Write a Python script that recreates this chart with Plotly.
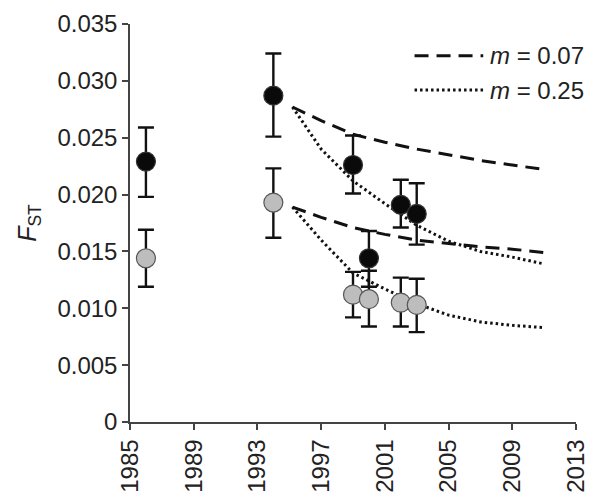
import plotly.graph_objects as go

# Observed data
black_years = [1986.0, 1994.0, 1999.0, 2000.0, 2002.0, 2003.0]
black_fst = [0.0229, 0.0287, 0.0226, 0.0144, 0.0191, 0.0183]
black_hi = [0.0259, 0.0324, 0.0252, 0.0168, 0.0213, 0.0210]
black_lo = [0.0198, 0.0251, 0.0201, 0.0119, 0.0171, 0.0156]

grey_years = [1986.0, 1994.0, 1999.0, 2000.0, 2002.0, 2003.0]
grey_fst = [0.0144, 0.0193, 0.0112, 0.0108, 0.0105, 0.0103]
grey_hi = [0.0169, 0.0223, 0.0132, 0.0133, 0.0127, 0.0126]
grey_lo = [0.0119, 0.0162, 0.0092, 0.0084, 0.0084, 0.0079]

# Model curves
model_years = [1995.2, 1997, 1999, 2001, 2003, 2005, 2007, 2009, 2011]
upper_m007 = [0.0277, 0.0265, 0.0253, 0.0246, 0.0240, 0.0235, 0.0230, 0.0226, 0.0222]
upper_m025 = [0.0277, 0.0240, 0.0212, 0.0192, 0.0173, 0.0159, 0.0150, 0.0145, 0.0139]
lower_m007 = [0.0189, 0.0180, 0.0171, 0.0165, 0.0160, 0.0157, 0.0154, 0.0152, 0.0149]
lower_m025 = [0.0189, 0.0160, 0.0131, 0.0117, 0.0104, 0.0094, 0.0088, 0.0085, 0.0083]

legend_labels = ["<i>m</i> = 0.07", "<i>m</i> = 0.25"]

x_ticks = [1985, 1989, 1993, 1997, 2001, 2005, 2009, 2013]
y_ticks = [0, 0.005, 0.010, 0.015, 0.020, 0.025, 0.030, 0.035]
y_tick_text = ["0", "0.005", "0.010", "0.015", "0.020", "0.025", "0.030", "0.035"]

FONT = "Liberation Sans, Arial, sans-serif"
INK = "#111111"
DASH = "14px,8px"
DOT = "2.5px,3px"

fig = go.Figure()

def err(vals, hi, lo):
    return dict(type="data", symmetric=False,
                array=[h - v for h, v in zip(hi, vals)],
                arrayminus=[v - l for v, l in zip(vals, lo)],
                color=INK, thickness=2.4, width=8)

for ys, dash in [(upper_m007, DASH), (upper_m025, DOT), (lower_m007, DASH), (lower_m025, DOT)]:
    fig.add_trace(go.Scatter(x=model_years, y=ys, mode="lines",
                             line=dict(color=INK, width=3, dash=dash),
                             showlegend=False))

fig.add_trace(go.Scatter(x=grey_years, y=grey_fst, mode="markers",
                         marker=dict(size=19, color="#bdbdbd", line=dict(color="#555555", width=1.2)),
                         error_y=err(grey_fst, grey_hi, grey_lo), showlegend=False))
fig.add_trace(go.Scatter(x=black_years, y=black_fst, mode="markers",
                         marker=dict(size=19, color="#0a0a0a", line=dict(color="#333333", width=1.2)),
                         error_y=err(black_fst, black_hi, black_lo), showlegend=False))

# Legend drawn as key lines + labels (paper coordinates)
legend_rows = [(0.92, DASH), (0.834, DOT)]
for (ypos, dash), label in zip(legend_rows, legend_labels):
    fig.add_shape(type="line", xref="paper", yref="paper",
                  x0=0.638, x1=0.792, y0=ypos, y1=ypos,
                  line=dict(color=INK, width=3, dash=dash))
    fig.add_annotation(xref="paper", yref="paper", x=0.803, y=ypos,
                       xanchor="left", yanchor="middle", showarrow=False,
                       text=label, font=dict(size=24, color="#222222"))

# page body has an 8px margin, so the figure is sized/offset to compensate
fig.update_layout(
    width=594, height=485,
    margin=dict(l=122, r=26, t=16, b=71),
    paper_bgcolor="white", plot_bgcolor="white",
    font=dict(family=FONT, size=24, color="#222222"),
    showlegend=False,
    xaxis=dict(range=[1985, 2013], tickvals=x_ticks, tickangle=-90, automargin=False,
               showgrid=False, zeroline=False, showline=True, linecolor="#444444",
               linewidth=1.5, ticks="outside", ticklen=6, tickcolor="#444444", tickwidth=1.5),
    yaxis=dict(range=[0, 0.035], tickvals=y_ticks, ticktext=y_tick_text, automargin=False,
               showgrid=False, zeroline=False, showline=True, linecolor="#444444",
               linewidth=1.5, ticks="outside", ticklen=6, tickcolor="#444444", tickwidth=1.5,
               title=dict(text="<i>F</i><sub>ST</sub>", standoff=14, font=dict(size=25))),
)

fig.write_html("out.html")
